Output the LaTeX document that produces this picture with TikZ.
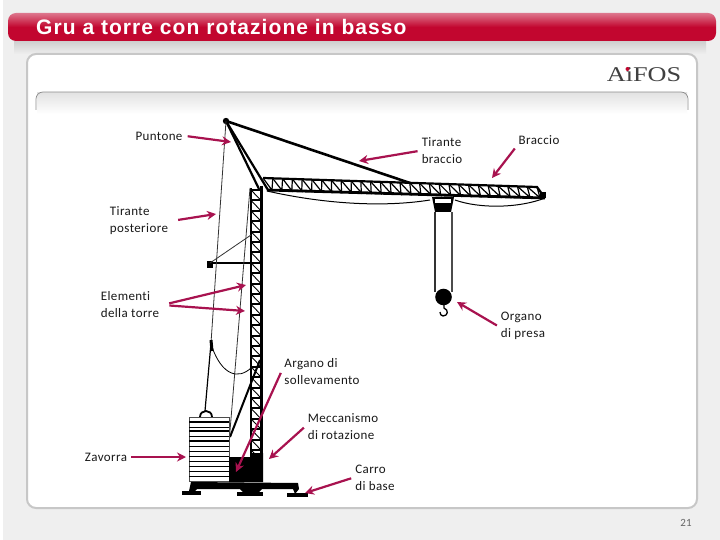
\documentclass[tikz,border=0pt]{standalone}
\usepackage{fontspec}
\setmainfont{Carlito}[LetterSpace=3,RawFeature=-liga]
\newfontfamily\titlefont{Liberation Sans}[LetterSpace=5]
\newfontfamily\logofont{Liberation Serif}
\usepackage{xcolor}
\usetikzlibrary{arrows.meta,calc}
\definecolor{barred}{HTML}{C2062F}
\definecolor{arrowred}{HTML}{A8124F}
\definecolor{pagegrey}{HTML}{EFEFEF}
\begin{document}
\begin{tikzpicture}[x=1pt,y=-1pt,
  lab/.style={align=left,inner sep=3pt,text=black!90,font=\fontsize{13}{17}\selectfont},
  ar/.style={-{Stealth[length=9pt,width=9pt]},line width=2.2pt,color=arrowred,shorten <=1pt},
  thickline/.style={line width=2.2pt,black},
  rope/.style={line width=0.8pt,black!80}]
\useasboundingbox (0,0) rectangle (720,540);
% background and frames
\fill[white] (0,0) rectangle (720,540);
\fill[pagegrey] (3,0) rectangle (720,540);
\shade[top color=black!22,bottom color=pagegrey,draw=none] (14,38) rectangle (706,54);
\draw[rounded corners=9pt,fill=white,draw=black!22,line width=2pt] (27,54) rectangle (697,508);
\shade[top color=black!11,bottom color=white,draw=none] (37,93) rectangle (687,114);
\draw[black!45,line width=0.7pt,rounded corners=7pt] (36,110) -- (36,92) -- (688,92) -- (688,110);
\shade[rounded corners=8pt,top color=barred!55!white,bottom color=barred,middle color=barred,draw=none] (8,13) rectangle (716,41);
\node[font=\titlefont\bfseries\fontsize{21}{22}\selectfont,text=white,anchor=west,inner sep=0pt] (title) at (36,27) {Gru a torre con rotazione in basso};
\node[font=\logofont\fontsize{21}{21}\selectfont,text=black!75,xscale=1.25,inner sep=0pt] (logo) at (644,75) {AiFOS};
\fill[barred] (627.5,69) circle (2);
\node[text=black!60,font=\fontsize{11}{13}\selectfont,inner sep=0pt] (page) at (686,523) {21};
% jib
\coordinate (jt1) at (263,178); \coordinate (jt2) at (537,187);
\coordinate (jb1) at (267,190); \coordinate (jb2) at (545,198);
\foreach \i in {0,...,27}{
  \draw[line width=1.2pt] ($(jt1)!\i/28!(jt2)$) -- ($(jb1)!\i/28+0.5/28!(jb2)$) -- ($(jt1)!\i/28+1/28!(jt2)$);
}
\draw[thickline] (jt1) -- (jt2) -- (jb2);
\draw[line width=2.8pt] (jb1) -- (jb2);
\fill (539.5,192) rectangle (546,198);
\draw[line width=1pt] (267,191) .. controls (320,203) and (380,208) .. (430,200);
\draw[line width=1pt] (455,200) .. controls (480,209) and (520,208) .. (545,198);
% mast and tie
\draw[thickline] (226,121) -- (259,189);
\draw[thickline] (226,121) -- (268,190);
\draw[line width=2.6pt] (226,121) -- (410,183);
\fill (226,121) circle (3.2);
% tower
\draw[line width=2.6pt] (251,188) -- (251,456);
\draw[line width=2.8pt] (261.5,186) -- (261.5,456);
\foreach \y in {190,200.4,...,450}{
  \draw[line width=2pt] (251,\y) -- (261,\y);
  \draw[line width=0.9pt] (251,\y) -- (261,\y+10.4);
}
% rear arm and stays
\draw[thickline] (210,263) -- (251,263);
\fill (207,261) rectangle (213,268);
\draw[rope] (210,263) -- (251,235);
\draw[rope] (226,121) -- (211,343);
\draw[line width=1.2pt] (211,343) -- (205,411);
\draw[line width=3pt] (211,340) -- (212,351);
\draw[rope] (250,188) -- (229,443);
\draw[line width=2pt] (260,360) -- (230,437);
\draw[line width=0.8pt] (212,347) .. controls (222,375) and (238,380) .. (251,368);
% counterweight
\draw[line width=1.8pt] (200,417) .. controls (200,409) and (212,409) .. (212,417);
\draw[black!70,line width=0.8pt,fill=white] (189,417) rectangle (229,481);
\foreach \y/\w in {422/1.2,427/1.0,431/1.2,436/0.8,441/1.2,446/0.8,451/0.8,456/0.8,461/0.8,466/0.8,471/0.8,476/0.8}{
  \draw[line width=\w pt] (189,\y) -- (229,\y);
}
% base
\fill (229,457) -- (250,457) -- (250,453) -- (263,453) -- (263,482) -- (229,482) -- cycle;
\fill (191,482) -- (298,483) -- (299,489) -- (295,494) -- (293,489) -- (262,489) -- (258,493) -- (244,493) -- (240,489) -- (197,489) -- (194,492) -- (189,491) -- cycle;
\fill (182,491) rectangle (201,495);
\fill (237,492) rectangle (263,496);
\fill (287,493) rectangle (308,496.5);
% trolley and hook
\fill (432,197) -- (454,197) -- (451,212) -- (435,212) -- cycle;
\fill[white] (435,199) rectangle (451,203);
\draw[line width=1.2pt,black!80] (435,212) -- (435,292);
\draw[line width=1.2pt,black!70] (452,212) -- (452,292);
\fill (443.5,297) circle (8.3);
\draw[line width=1.3pt] (444,304) -- (444,308) .. controls (449,310) and (448,316) .. (443,316) .. controls (441,316) and (440,314) .. (440,312);
% labels
\node[lab] (puntone) at (159,136) {Puntone};
\node[lab] (tbraccio) at (442,151) {Tirante\\braccio};
\node[lab] (braccio) at (539,140) {Braccio};
\node[lab] (tposter) at (139,221) {Tirante\\posteriore};
\node[lab] (elementi) at (130,305) {Elementi\\della torre};
\node[lab] (organo) at (523,326) {Organo\\di presa};
\node[lab] (argano) at (322,372) {Argano di\\sollevamento};
\node[lab] (mecc) at (343,427) {Meccanismo\\di rotazione};
\node[lab] (zavorra) at (106,457) {Zavorra};
\node[lab] (carro) at (375,478) {Carro\\di base};
% arrow ends
\coordinate (e1) at (231,142); \coordinate (e2) at (359,161);
\coordinate (e3) at (492,178); \coordinate (e4) at (216,214);
\coordinate (e5) at (246,285); \coordinate (e6) at (245,311);
\coordinate (e7) at (457,302); \coordinate (e8) at (236,472);
\coordinate (e9) at (269,459); \coordinate (e10) at (186,457);
\coordinate (e11) at (305,493);
\draw[ar,shorten <=2pt] (puntone.east) -- (e1);
\draw[ar] (tbraccio.west) -- (e2);
\draw[ar] (braccio.south west) -- (e3);
\draw[ar,shorten <=7pt] (tposter.east) -- (e4);
\draw[ar,shorten <=7pt] (elementi.east) -- (e5);
\draw[ar,shorten <=7pt] (elementi.east) -- (e6);
\draw[ar] (organo.west) -- (e7);
\draw[ar] (argano.west) -- (e8);
\draw[ar] (mecc.west) -- (e9);
\draw[ar] (zavorra.east) -- (e10);
\draw[ar] (carro.west) -- (e11);
\end{tikzpicture}
\end{document}
